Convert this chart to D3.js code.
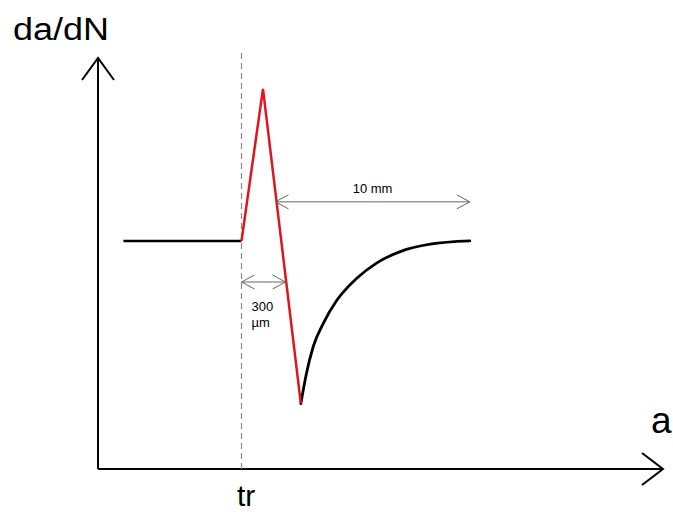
<!DOCTYPE html>
<html>
<head>
<meta charset="utf-8">
<script src="https://cdn.jsdelivr.net/npm/d3@7"></script>
<style>
  html, body { margin: 0; padding: 0; background: #fff; }
  svg { display: block; }
  text { font-family: "Liberation Sans", Arial, sans-serif; fill: #000; }
</style>
</head>
<body>
<svg id="chart" width="673" height="512"></svg>
<script>
// ---- data (abstract units: x = crack length a, y = da/dN) ----
const baselineX = [4.5, 25.4];
const baselineY = [55.5, 55.5];
const overloadX = [25.4, 29.2, 35.9];     // red spike: start, peak, trough
const overloadY = [55.5, 92.5, 15.9];
const recoveryX = [35.9, 36.9, 38.1, 39.9, 42.3, 45.8, 49.3, 53.5, 58.8, 65.8];
const recoveryY = [15.9, 23.3, 29.8, 35.5, 41.1, 46.4, 50.1, 52.9, 54.7, 55.5];
const overloadPos = 25.4;                 // t_r
const dim10mm = { x0: 31.4, x1: 65.8, y: 65.0, label: "10 mm" };
const dim300 = { x0: 25.4, x1: 33.2, y: 45.5, label: ["300", "µm"] };
const axisLabels = { y: "da/dN", x: "a", tr: "tr" };

// ---- scales ----
const svg = d3.select("#chart");
const x = d3.scaleLinear().domain([0, 100]).range([98, 663]);
const y = d3.scaleLinear().domain([0, 100]).range([469, 58]);

const line = d3.line().x(d => x(d[0])).y(d => y(d[1]));

// axes
svg.append("path")
  .attr("d", line([[0, 0], [0, 100]]))
  .attr("stroke", "#000").attr("stroke-width", 2).attr("fill", "none");
svg.append("path")
  .attr("d", line([[0, 0], [100, 0]]))
  .attr("stroke", "#000").attr("stroke-width", 2).attr("fill", "none");
// arrowheads (open chevrons)
const yt = [x(0), y(100)];
svg.append("path")
  .attr("d", `M${yt[0]-16},${yt[1]+22} L${yt[0]},${yt[1]} L${yt[0]+16},${yt[1]+22}`)
  .attr("stroke", "#000").attr("stroke-width", 2).attr("fill", "none");
const xt = [x(100), y(0)];
svg.append("path")
  .attr("d", `M${xt[0]-21},${xt[1]-16} L${xt[0]},${xt[1]} L${xt[0]-21},${xt[1]+16}`)
  .attr("stroke", "#000").attr("stroke-width", 2).attr("fill", "none");

// dashed overload line
svg.append("path")
  .attr("d", line([[overloadPos, 0], [overloadPos, y.invert(53)]]))
  .attr("stroke", "#8a8a8a").attr("stroke-width", 1.2)
  .attr("stroke-dasharray", "6,4").attr("fill", "none");

// baseline
svg.append("path")
  .attr("d", line(baselineX.map((v, i) => [v, baselineY[i]])))
  .attr("stroke", "#000").attr("stroke-width", 2.5).attr("fill", "none");

// recovery curve
svg.append("path")
  .attr("d", d3.line().x(d => x(d[0])).y(d => y(d[1])).curve(d3.curveMonotoneX)(
    recoveryX.map((v, i) => [v, recoveryY[i]])))
  .attr("stroke", "#000").attr("stroke-width", 2.8).attr("fill", "none")
  .attr("stroke-linecap", "round");

// red overload spike
svg.append("path")
  .attr("d", line(overloadX.map((v, i) => [v, overloadY[i]])))
  .attr("stroke", "#e0141e").attr("stroke-width", 2.5).attr("fill", "none")
  .attr("stroke-linejoin", "miter");

// dimension arrows
function dimArrow(d) {
  const x0 = x(d.x0), x1 = x(d.x1), yy = y(d.y);
  const g = svg.append("g").attr("stroke", "#666").attr("stroke-width", 1).attr("fill", "none");
  g.append("path").attr("d", `M${x0},${yy} L${x1},${yy}`);
  g.append("path").attr("d", `M${x0+13},${yy-7} L${x0},${yy} L${x0+13},${yy+7}`);
  g.append("path").attr("d", `M${x1-13},${yy-7} L${x1},${yy} L${x1-13},${yy+7}`);
}
dimArrow(dim10mm);
dimArrow(dim300);

svg.append("text")
  .attr("x", (x(dim10mm.x0) + x(dim10mm.x1)) / 2 + 0)
  .attr("y", y(dim10mm.y) - 9)
  .attr("text-anchor", "middle")
  .attr("font-size", 13).attr("fill", "#222")
  .text(dim10mm.label);

svg.append("text")
  .attr("x", x(dim300.x0) + 10)
  .attr("y", 311)
  .attr("font-size", 13).attr("fill", "#222")
  .text(dim300.label[0]);
svg.append("text")
  .attr("x", x(dim300.x0) + 10)
  .attr("y", 327)
  .attr("font-size", 13).attr("fill", "#222")
  .text(dim300.label[1]);

// axis labels
svg.append("text")
  .attr("x", 13).attr("y", 40)
  .attr("font-size", 31)
  .attr("textLength", 96).attr("lengthAdjust", "spacingAndGlyphs")
  .text(axisLabels.y);
svg.append("text")
  .attr("x", 651).attr("y", 433)
  .attr("font-size", 37)
  .text(axisLabels.x);
svg.append("text")
  .attr("x", 237).attr("y", 506)
  .attr("font-size", 30)
  .text(axisLabels.tr);
</script>
</body>
</html>
